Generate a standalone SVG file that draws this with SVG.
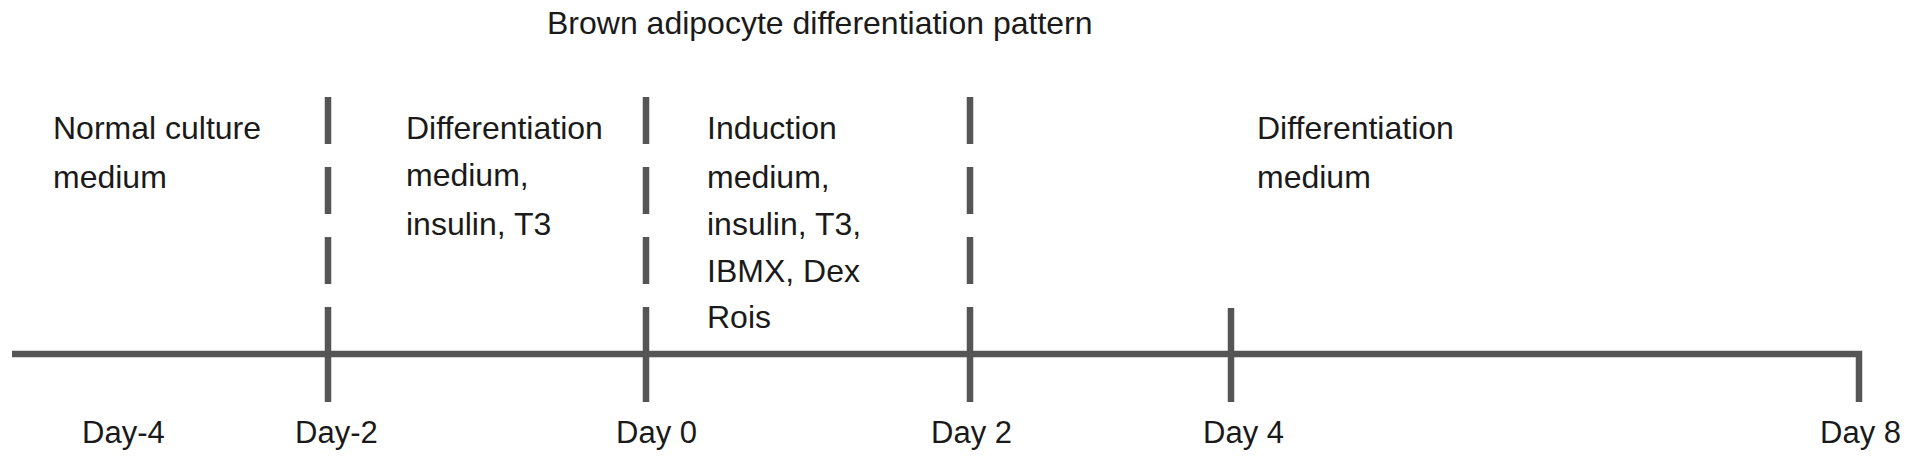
<svg xmlns="http://www.w3.org/2000/svg" width="1913" height="463" viewBox="0 0 1913 463">
<style>
  text { font-family: "Liberation Sans", Arial, sans-serif; fill: #1a1a1a; }
  .body { font-size: 32px; }
  .day { font-size: 31px; }
  .title { font-size: 32px; }
  .ln { stroke: #555; stroke-width: 6.5; fill: none; }
  .dash { stroke-dasharray: 47 23 47 23 47 23 100; }
</style>
<rect width="1913" height="463" fill="#fff"/>
<g id="connectors">
  <path class="ln" d="M12 354 H1859 V402"/>
  <line class="ln dash" x1="328" y1="97" x2="328" y2="402"/>
  <line class="ln dash" x1="646" y1="97" x2="646" y2="402"/>
  <line class="ln dash" x1="970" y1="97" x2="970" y2="402"/>
  <line class="ln" x1="1231" y1="308" x2="1231" y2="402"/>
</g>
<g id="title"><text class="title" x="547" y="34">Brown adipocyte differentiation pattern</text></g>
<g id="phase-normal">
  <text class="body" x="53" y="139">Normal culture</text>
  <text class="body" x="53" y="188">medium</text>
</g>
<g id="phase-diff1">
  <text class="body" x="406" y="139">Differentiation</text>
  <text class="body" x="406" y="186">medium,</text>
  <text class="body" x="406" y="235">insulin, T3</text>
</g>
<g id="phase-induction">
  <text class="body" x="707" y="139">Induction</text>
  <text class="body" x="707" y="188">medium,</text>
  <text class="body" x="707" y="235">insulin, T3,</text>
  <text class="body" x="707" y="282">IBMX, Dex</text>
  <text class="body" x="707" y="328">Rois</text>
</g>
<g id="phase-diff2">
  <text class="body" x="1257" y="139">Differentiation</text>
  <text class="body" x="1257" y="188">medium</text>
</g>
<g id="days">
  <text class="day" x="82" y="443">Day-4</text>
  <text class="day" x="295" y="443">Day-2</text>
  <text class="day" x="616" y="443">Day 0</text>
  <text class="day" x="931" y="443">Day 2</text>
  <text class="day" x="1203" y="443">Day 4</text>
  <text class="day" x="1820" y="443">Day 8</text>
</g>
</svg>
